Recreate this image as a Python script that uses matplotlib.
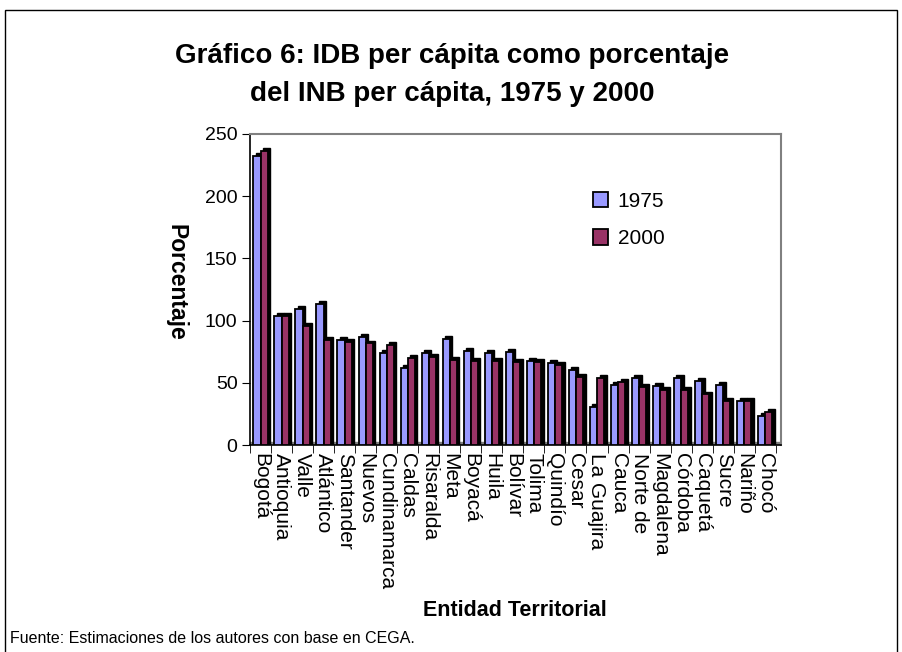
import matplotlib
matplotlib.use("Agg")
import matplotlib.pyplot as plt
import matplotlib.patches as mpatches
import numpy as np

plt.rcParams['font.family'] = ['Liberation Sans', 'DejaVu Sans']

entidades = ["Bogotá", "Antioquia", "Valle", "Atlántico", "Santander", "Nuevos",
             "Cundinamarca", "Caldas", "Risaralda", "Meta", "Boyacá", "Huila",
             "Bolívar", "Tolima", "Quindío", "Cesar", "La Guajira", "Cauca",
             "Norte de", "Magdalena", "Córdoba", "Caquetá", "Sucre", "Nariño", "Chocó"]
v1975 = [235, 106, 112, 116, 87, 89, 76, 64, 76, 88, 78, 76, 77, 70, 68, 63, 33, 51,
         56, 50, 56, 54, 51, 38, 26]
v2000 = [239, 106, 98, 87, 85, 84, 83, 72, 73, 71, 70, 70, 69, 69, 67, 57, 56, 53,
         49, 47, 47, 43, 38, 38, 29]
series = ["1975", "2000"]
colores = ["#9999FF", "#993366"]

fig = plt.figure(figsize=(9.02, 6.52), dpi=100)
ax = fig.add_axes([250 / 902, 207 / 652, 531 / 902, 311 / 652])

x = np.arange(len(entidades))
w = 0.34
for k, (vals, col, nom) in enumerate(zip([v1975, v2000], colores, series)):
    pos = x + (k - 0.5) * w
    # sombra negra para imitar el efecto 3D de Excel
    ax.bar(pos + 0.12, vals, width=w, color="black", edgecolor="black",
           linewidth=1, zorder=2)
    ax.bar(pos, np.array(vals) - 2.4, width=w, color=col, edgecolor="black",
           linewidth=1.3, zorder=3, label=nom)

ax.set_xlim(-0.5, len(entidades) - 0.25)
ax.set_ylim(0, 250)
ax.set_yticks([0, 50, 100, 150, 200, 250])
ax.tick_params(axis="y", labelsize=14, length=6, direction="out", pad=3)
ax.set_xticks(x)
ax.set_xticklabels(entidades, rotation=270, fontsize=15, va="top", ha="center")
ax.set_xticks(np.arange(-0.5, len(entidades)), minor=True)
ax.tick_params(axis="x", which="major", length=0, pad=6)
ax.tick_params(axis="x", which="minor", length=6, direction="out")

for s in ["top", "right"]:
    ax.spines[s].set_color("#808080")
    ax.spines[s].set_linewidth(1.5)
ax.spines["left"].set_linewidth(1.2)
ax.spines["bottom"].set_linewidth(1.2)
ax.axhspan(0, 2.5, color="#808080", zorder=1)

ax.set_ylabel("Porcentaje", fontsize=16.5, fontweight="bold", rotation=270,
              va="center", ha="center")
ax.yaxis.set_label_coords((176 - 250) / 531, (652 - 282 - 207) / 311)
ax.set_xlabel("Entidad Territorial", fontsize=15.5, fontweight="bold",
              va="center")
ax.xaxis.set_label_coords((515 - 250) / 531, (652 - 610 - 207) / 311)

ax.legend(loc="upper left", bbox_to_anchor=(0.61, 0.875), frameon=False,
          fontsize=15, handlelength=0.75, handleheight=0.75,
          handletextpad=0.45, labelspacing=0.9)

fig.text(0.5017, 1 - 63 / 652, "Gráfico 6: IDB per cápita como porcentaje",
         ha="center", va="baseline", fontsize=20, fontweight="bold")
fig.text(0.5017, 1 - 101 / 652, "del INB per cápita, 1975 y 2000",
         ha="center", va="baseline", fontsize=20, fontweight="bold")
fig.text(10 / 902, 1 - 643 / 652, "Fuente: Estimaciones de los autores con base en CEGA.",
         ha="left", va="baseline", fontsize=11.5)

marco = mpatches.Rectangle((5 / 902, -0.02), 892 / 902, 1 - 10 / 652 + 0.02,
                           transform=fig.transFigure, fill=False, edgecolor="black",
                           linewidth=1)
fig.patches.append(marco)

fig.savefig("out.png", dpi=100)
